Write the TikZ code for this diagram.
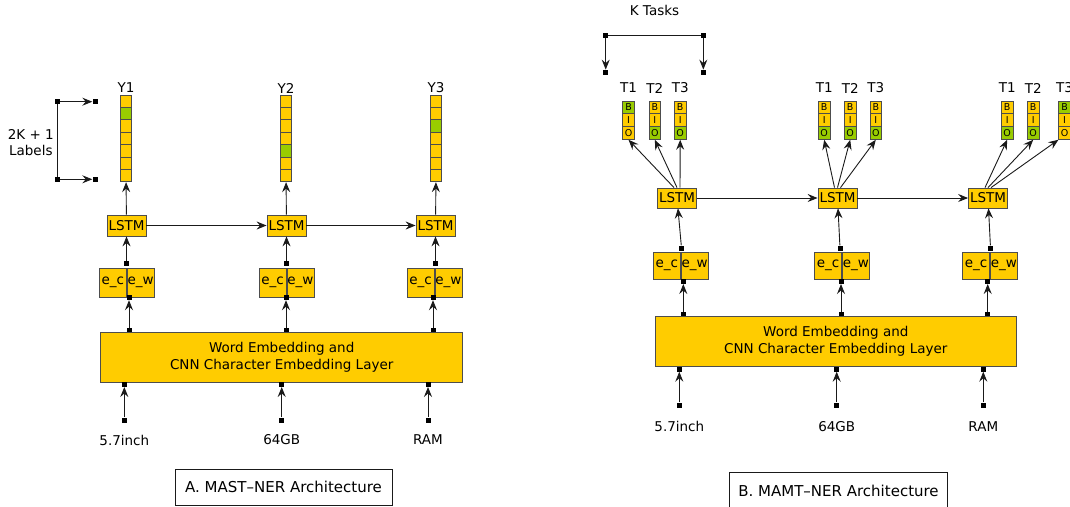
\documentclass[tikz,border=0pt]{standalone}
\usepackage{fontspec}
\setmainfont{DejaVu Sans}
\usetikzlibrary{arrows.meta}
\definecolor{boxy}{HTML}{FFCC00}
\definecolor{boxg}{HTML}{99CC00}
\definecolor{edgec}{HTML}{1A1A1A}
\definecolor{bord}{HTML}{4D4D4D}
\tikzset{
 ybox/.style={draw=bord, fill=boxy, line width=0.8pt, inner sep=0pt, font=\fontsize{13.5}{17}\selectfont},
 lstmbox/.style={ybox, minimum width=39pt, minimum height=21pt},
 halfbox/.style={ybox, minimum width=27pt, minimum height=29pt},
 cell/.style={draw=bord, line width=0.7pt, minimum width=11pt, minimum height=12.4pt, inner sep=0pt},
 biocell/.style={draw=bord, line width=0.7pt, minimum width=11.5pt, minimum height=12.8pt, inner sep=0pt, font=\fontsize{9.5}{10}\selectfont},
 sq/.style={fill=black, draw=none, minimum size=5pt, inner sep=0pt},
 arr/.style={draw=edgec, line width=0.9pt, -{Stealth[length=10pt,width=8pt,inset=3.5pt]}},
 ln/.style={draw=edgec, line width=0.9pt},
 lbl/.style={font=\fontsize{13.5}{17}\selectfont, inner sep=0pt},
 capbox/.style={draw=edgec, line width=0.8pt, font=\fontsize{15}{18}\selectfont, inner sep=0pt},
}
\begin{document}
\begin{tikzpicture}[x=1pt,y=-1pt]
\useasboundingbox (0,0) rectangle (1070,506);

% ================= Panel A =================
\foreach \i/\x/\g in {1/126/2,2/286/5,3/436/3}{
  \node[lbl] (yl\i) at (\x,88) {Y\i};
  \foreach \k in {1,...,7}{
    \ifnum\k=\g \def\cf{boxg}\else\def\cf{boxy}\fi
    \node[cell, fill=\cf] (y\i-\k) at (\x,{88.8+12.4*\k}) {};
  }
}
\foreach \i/\x in {1/126.5,2/286.5,3/435.5}{
  \node[lstmbox] (la\i) at (\x,225.5) {LSTM};
}
\foreach \i/\x in {1/126.7,2/286.5,3/434.5}{
  \node[halfbox, anchor=east] (eca\i) at (\x,282.5) {e\_c};
  \node[halfbox, anchor=west] (ewa\i) at (\x,282.5) {e\_w};
}
\foreach \i/\x in {1/126.5,2/286.5,3/435.5}{
  \node[sq] (sta\i) at (\x,263.5) {};
}
\foreach \i/\x in {1/129,2/286,3/433}{
  \node[sq] (sba\i) at (\x,297.5) {};
  \node[sq] (ta\i) at (\x,330.3) {};
}
\node[ybox, minimum width=362pt, minimum height=50pt, align=center] (wea) at (281.7,357)
  {Word Embedding and\\CNN Character Embedding Layer};
\foreach \i/\x/\w in {1/124.3/5.7inch,2/281.7/64GB,3/428/RAM}{
  \node[sq] (ba\i) at (\x,384.3) {};
  \node[sq] (sa\i) at (\x,420) {};
  \node[lbl] (wa\i) at (\x,440) {\w};
}
\foreach \i in {1,2,3}{
  \draw[arr] (sa\i) -- (ba\i);
  \draw[arr] (ta\i) -- (sba\i);
  \draw[arr] (sta\i) -- (la\i);
  \draw[arr] (la\i) -- (y\i-7);
}
\draw[arr] (la1) -- (la2);
\draw[arr] (la2) -- (la3);
\node[sq] (kl1) at (57.7,101.7) {};
\node[sq] (kl2) at (57.7,179.3) {};
\node[sq] (kr1) at (95,101.7) {};
\node[sq] (kr2) at (95,179.3) {};
\draw[ln] (kl1) -- (kl2);
\draw[arr] (kl1) -- (kr1);
\draw[arr] (kl2) -- (kr2);
\node[lbl, anchor=east, align=center, font=\fontsize{13.5}{15.5}\selectfont] (klab) at (54,142.5) {2K + 1\\Labels};
\node[capbox, minimum width=217pt, minimum height=36pt] (capa) at (283.5,487) {A. MAST–NER Architecture};

% ================= Panel B =================
\node[lbl] (kt) at (654.5,10) {K Tasks};
\node[sq] (kt1) at (605.7,35.7) {};
\node[sq] (kt2) at (703.3,35.7) {};
\node[sq] (kb1) at (605.7,72.3) {};
\node[sq] (kb2) at (703.3,72.3) {};
\draw[ln] (kt1) -- (kt2);
\draw[arr] (kt1) -- (kb1);
\draw[arr] (kt2) -- (kb2);

\foreach \gr/\t/\x/\g in {1/1/628.5/1,1/2/654.8/3,1/3/680.2/3,
                          2/1/824.2/3,2/2/850.2/3,2/3/875.8/3,
                          3/1/1007.2/3,3/2/1033.2/3,3/3/1064.5/1}{
  \node[lbl] (tl\gr\t) at (\x,88) {T\t};
  \foreach \k/\c in {1/B,2/I,3/O}{
    \ifnum\k=\g \def\cf{boxg}\else\def\cf{boxy}\fi
    \node[biocell, fill=\cf] (bio\gr\t-\k) at (\x,{101+12.8*(\k-0.5)}) {\c};
  }
}
\foreach \i/\x in {1/677,2/837.5,3/988}{
  \node[lstmbox, minimum height=20pt] (lb\i) at (\x,198) {LSTM};
}
\foreach \i/\x in {1/680.7,2/842,3/990}{
  \node[halfbox, anchor=east, minimum height=27pt] (ecb\i) at (\x,265.8) {e\_c};
  \node[halfbox, anchor=west, minimum height=27pt] (ewb\i) at (\x,265.8) {e\_w};
}
\foreach \i/\x in {1/681.5,2/840,3/990.5}{
  \node[sq] (stb\i) at (\x,248) {};
}
\foreach \i/\x in {1/683.3,2/841,3/987.7}{
  \node[sq] (sbb\i) at (\x,281.3) {};
  \node[sq] (tb\i) at (\x,314.3) {};
}
\node[ybox, minimum width=361.7pt, minimum height=50pt, align=center] (web) at (835.8,341.7)
  {Word Embedding and\\CNN Character Embedding Layer};
\foreach \i/\x/\w in {1/679.3/5.7inch,2/836.7/64GB,3/983.3/RAM}{
  \node[sq] (bb\i) at (\x,369) {};
  \node[sq] (sb\i) at (\x,405) {};
  \node[lbl] (wb\i) at (\x,426.7) {\w};
}
\foreach \i in {1,2,3}{
  \draw[arr] (sb\i) -- (bb\i);
  \draw[arr] (tb\i) -- (sbb\i);
  \draw[arr] (stb\i) -- (lb\i);
}
\draw[arr] (lb1) -- (lb2);
\draw[arr] (lb2) -- (lb3);
\foreach \gr in {1,2}{
  \draw[arr] ([xshift=-3pt]lb\gr.north) -- (bio\gr1-3.south);
  \draw[arr] ([xshift=0pt]lb\gr.north) -- (bio\gr2-3.south);
  \draw[arr] ([xshift=3pt]lb\gr.north) -- (bio\gr3-3.south);
}
\draw[arr] ([xshift=-3pt]lb3.north) -- (bio31-3.south);
\draw[arr] ([xshift=0pt]lb3.north) -- (bio32-3.south);
\draw[arr] ([xshift=3pt]lb3.north) -- (bio33-3.south west);
\node[capbox, minimum width=218.4pt, minimum height=38pt] (capb) at (838.5,491) {B. MAMT–NER Architecture};
\end{tikzpicture}
\end{document}
